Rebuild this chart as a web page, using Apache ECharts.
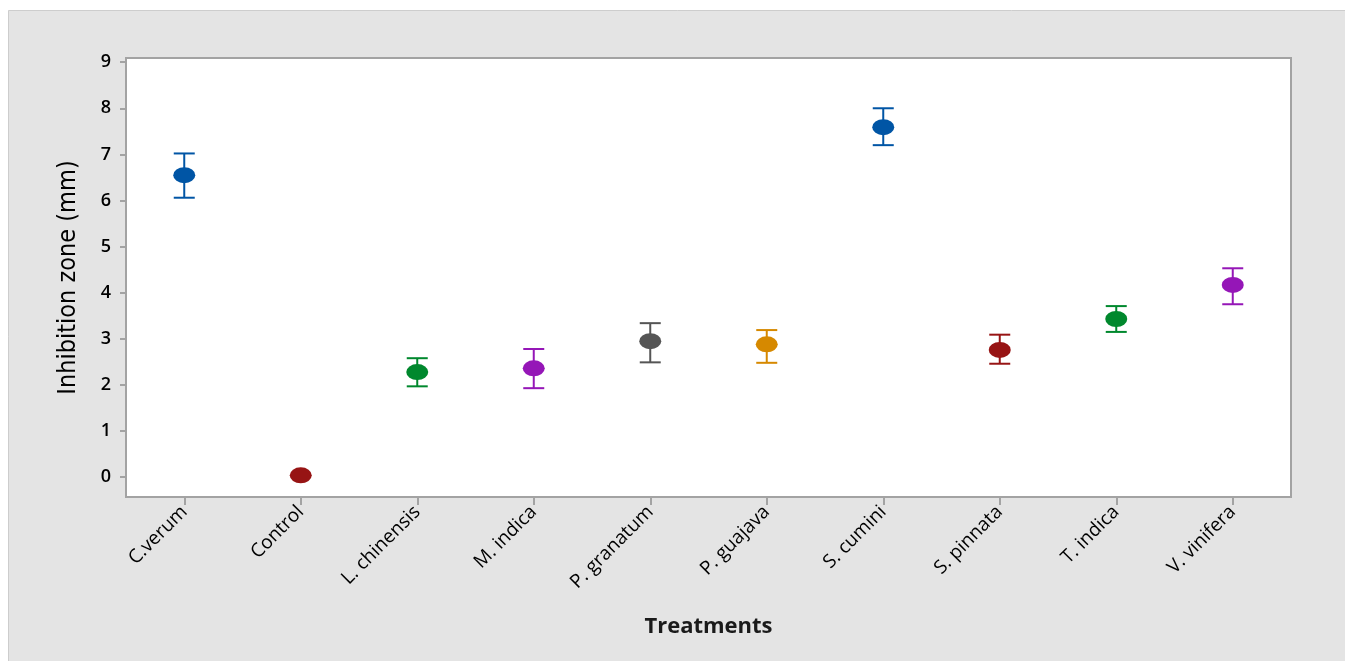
<!DOCTYPE html>
<html><head><meta charset="utf-8">
<script src="https://cdn.jsdelivr.net/npm/echarts@6/dist/echarts.min.js"></script>
<style>html,body{margin:0;padding:0;background:#fff}#c{width:1345px;height:661px}</style>
</head><body><div id="c"></div>
<script>
const categories = ['C.verum','Control','L. chinensis','M. indica','P. granatum','P. guajava','S. cumini','S. pinnata','T. indica','V. vinifera'];
const means = [6.55, 0.04, 2.28, 2.36, 2.95, 2.88, 7.59, 2.76, 3.43, 4.17];
const lower = [6.06, 0.04, 1.97, 1.93, 2.49, 2.48, 7.20, 2.46, 3.15, 3.75];
const upper = [7.02, 0.04, 2.58, 2.78, 3.34, 3.19, 8.00, 3.09, 3.71, 4.53];
const colors = ['#0055a5','#971414','#00882d','#9516b7','#555555','#d68900','#0055a5','#971414','#00882d','#9516b7'];
const yTicks = [0,1,2,3,4,5,6,7,8,9];

const chart = echarts.init(document.getElementById('c'));
const errData = categories.map((c,i)=>[i, lower[i], upper[i]]);
chart.setOption({
  animation:false,
  graphic:[{type:'rect',z:-10,shape:{x:8.5,y:10.5,width:1345,height:660},style:{fill:'#e4e4e4',stroke:'#cdcdcd',lineWidth:1}}],
  grid:{left:126,top:58,width:1165,height:439,show:true,backgroundColor:'#ffffff',borderColor:'#a3a3a3',borderWidth:2},
  xAxis:{type:'category',data:categories,boundaryGap:true,
    name:'Treatments',nameLocation:'middle',nameGap:119,
    nameTextStyle:{fontFamily:'Open Sans',fontSize:22,fontWeight:'bold',color:'#1a1a1a'},
    axisLine:{show:true,onZero:false,lineStyle:{color:'#a3a3a3',width:2}},
    axisTick:{show:true,alignWithLabel:true,length:8,lineStyle:{color:'#a3a3a3',width:2}},
    axisLabel:{rotate:45,fontFamily:'Open Sans',fontSize:19,fontWeight:500,color:'#000',margin:12},
    splitLine:{show:false}},
  yAxis:{type:'value',min:-0.43,max:9.09,
    name:'Inhibition zone (mm)',nameLocation:'middle',nameGap:45,
    nameTextStyle:{fontFamily:'DejaVu Sans Condensed',fontSize:25,color:'#000'},
    axisLine:{show:true,lineStyle:{color:'#a3a3a3',width:2}},
    axisTick:{show:true,length:6,customValues:yTicks,lineStyle:{color:'#a3a3a3',width:2}},
    axisLabel:{customValues:yTicks,fontFamily:'Open Sans',fontSize:18,fontWeight:600,color:'#000',margin:15},
    splitLine:{show:false}},
  series:[
    {type:'custom',data:errData,z:2,
      renderItem:function(params,api){
        const i=api.value(0);
        const x=api.coord([i,api.value(1)]);
        const top=api.coord([i,api.value(2)]);
        const hw=10.5;
        const col=colors[i];
        const st={stroke:col,lineWidth:2};
        if (api.value(1)===api.value(2)) return {type:'group',children:[]};
        return {type:'group',children:[
          {type:'line',shape:{x1:x[0],y1:x[1],x2:top[0],y2:top[1]},style:st},
          {type:'line',shape:{x1:x[0]-hw,y1:x[1],x2:x[0]+hw,y2:x[1]},style:st},
          {type:'line',shape:{x1:top[0]-hw,y1:top[1],x2:top[0]+hw,y2:top[1]},style:st}
        ]};
      }},
    {type:'scatter',z:3,symbol:'circle',symbolSize:[22,16],
      itemStyle:{opacity:1},
      data:means.map((v,i)=>({value:v,itemStyle:{color:colors[i],opacity:1}}))}
  ]
});
</script></body></html>
